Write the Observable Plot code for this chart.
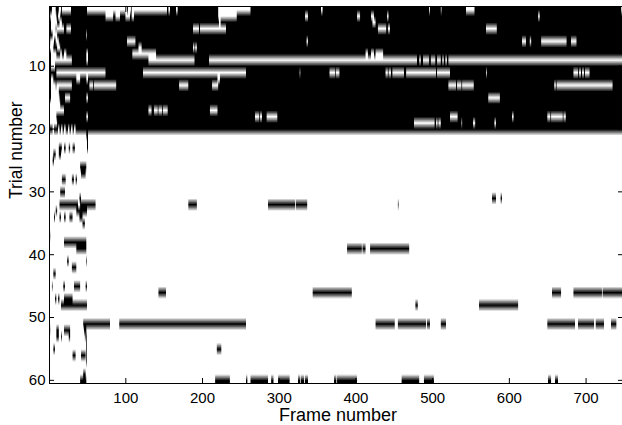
<!DOCTYPE html>
<html>
<head>
<meta charset="utf-8">
<style>html,body{margin:0;padding:0;background:#fff}svg{display:block}</style>
<script src="https://cdn.jsdelivr.net/npm/d3@7"></script>
<script src="https://cdn.jsdelivr.net/npm/@observablehq/plot@0.6"></script>
</head>
<body>
<div id="chart"></div>
<script>
const frameCount = 747;
const trialCount = 60;
const xTicks = [100,200,300,400,500,600,700];
const yTicks = [10,20,30,40,50,60];

// Trials 1-20: background 0 (black), [first frame, last frame] runs are 1 (white)
const trials01to20 = [
/* 1*/[[4,5],[6,8],[13,15],[17,28],[50,101],[103,106],[108,153],[156,157],[166,167],[221,262],[355,356],[496,496],[511,511],[544,554],[746,746]],
/* 2*/[[2,9],[12,14],[74,83],[87,92],[100,105],[108,110],[221,244],[334,337],[402,405],[420,423],[441,442],[638,639]],
/* 3*/[[3,10],[14,16],[222,223],[422,425]],
/* 4*/[[3,8],[10,19],[23,28],[188,195],[197,230],[429,439],[442,444],[570,583]],
/* 5*/[[5,10],[49,49]],
/* 6*/[[2,6],[9,12],[102,112],[336,337],[617,621],[627,628],[642,674],[681,684],[685,687]],
/* 7*/[[1,5],[11,14],[117,120],[188,189],[191,192]],
/* 8*/[[3,9],[15,16],[20,22],[49,50],[109,139],[413,415],[420,423],[426,435]],
/* 9*/[[3,29],[49,50],[130,189],[209,479],[483,484],[488,495],[498,503],[506,510],[513,514],[517,518],[521,747]],
/*10*/[[3,7]],
/*11*/[[10,73],[123,256],[327,327],[366,372],[374,378],[439,441],[443,445],[448,462],[466,504],[506,522],[570,570],[684,686],[687,689],[691,693],[695,697],[699,704]],
/*12*/[[3,5],[36,40],[49,50],[220,222]],
/*13*/[[3,8],[10,29],[53,57],[59,87],[170,181],[213,220],[521,530],[532,537],[539,553],[659,660],[662,734]],
/*14*/[[3,12]],
/*15*/[[3,13],[21,27],[49,50],[573,587]],
/*16*/[[1,14]],
/*17*/[[1,9],[10,19],[130,133],[137,141],[143,147],[149,154],[210,219]],
/*18*/[[1,9],[49,50],[269,273],[275,277],[284,297],[523,532],[604,605],[650,653],[655,669],[671,673]],
/*19*/[[1,10],[476,502],[505,506],[508,510],[538,538],[553,555],[581,582]],
/*20*/[[5,6],[12,13],[16,17],[20,21],[25,26],[29,30],[33,34]]
];

// Trials 21-60: background 1 (white), [first frame, last frame] runs are 0 (black)
const trials21to60 = [
/*21*/[[49,50]],
/*22*/[[50,50]],
/*23*/[[13,16],[20,21],[26,27],[31,33],[50,50]],
/*24*/[[6,8],[13,15]],
/*25*/[[5,6]],
/*26*/[[41,48]],
/*27*/[[42,47]],
/*28*/[[17,21],[30,32],[35,36]],
/*29*/[],
/*30*/[[15,20]],
/*31*/[[40,41],[578,582],[589,590]],
/*32*/[[14,37],[41,60],[182,192],[286,320],[322,325],[326,336],[455,455]],
/*33*/[[36,49],[9,10]],
/*34*/[[7,7],[14,15],[20,21],[27,30],[40,43]],
/*35*/[[44,46]],
/*36*/[],
/*37*/[[1,1]],
/*38*/[[20,48]],
/*39*/[[36,48],[389,407],[409,412],[419,469]],
/*40*/[],
/*41*/[[24,25],[49,49]],
/*42*/[[30,35]],
/*43*/[[6,8]],
/*44*/[],
/*45*/[[4,4],[19,20],[33,40],[48,49]],
/*46*/[[143,152],[344,394],[656,667],[684,720],[722,747]],
/*47*/[[8,9],[12,13],[20,30]],
/*48*/[[16,49],[478,480],[561,611]],
/*49*/[],
/*50*/[],
/*51*/[[45,79],[92,256],[426,450],[455,491],[493,496],[511,517],[650,685],[690,710],[713,719],[720,723],[733,739]],
/*52*/[[1,1],[10,12],[20,27],[46,48]],
/*53*/[[10,12],[16,16],[26,27],[47,47],[49,49]],
/*54*/[[49,49]],
/*55*/[[6,7],[49,49],[219,224]],
/*56*/[[31,34],[42,47],[49,49]],
/*57*/[[49,49]],
/*58*/[],
/*59*/[[45,47]],
/*60*/[[41,48],[217,235],[257,258],[263,282],[283,285],[290,292],[299,301],[302,305],[306,310],[311,313],[325,327],[329,332],[334,337],[372,374],[376,401],[460,464],[465,482],[489,498],[499,501],[651,654],[660,663]]
];

const values = new Float64Array(frameCount * trialCount);
const paint = (trial, background, runs) => {
  const row = (trial - 1) * frameCount;
  values.fill(background, row, row + frameCount);
  for (const [a, b] of runs) values.fill(1 - background, row + a - 1, row + b);
};
trials01to20.forEach((runs, i) => paint(i + 1, 0, runs));
trials21to60.forEach((runs, i) => paint(i + 21, 1, runs));

const font = "'Liberation Sans', Arial, sans-serif";
const plot = Plot.plot({
  width: 622,
  height: 425,
  marginTop: 6,
  marginLeft: 49,
  marginRight: 0,
  marginBottom: 42,
  style: {fontFamily: font, background: "#fff", color: "#000"},
  x: {domain: [0.5, frameCount + 0.5], axis: null},
  y: {domain: [0.5, trialCount + 0.5], reverse: true, axis: null},
  color: {type: "linear", domain: [0, 1], range: ["#000", "#fff"]},
  marks: [
    Plot.raster(Array.from(values), {
      width: frameCount, height: trialCount,
      x1: 0.5, x2: frameCount + 0.5, y1: 0.5, y2: trialCount + 0.5,
      fill: d => d
    }),
    Plot.axisX({anchor: "bottom", ticks: xTicks, tickSize: -5, tickPadding: 14, fontSize: 15, label: null, tickFormat: d => d}),
    Plot.axisX({anchor: "top", ticks: xTicks, tickSize: -5, tickFormat: () => "", label: null}),
    Plot.axisY({anchor: "left", ticks: yTicks, tickSize: -5, tickPadding: 9, fontSize: 15, label: null, tickFormat: d => d}),
    Plot.axisY({anchor: "right", ticks: yTicks, tickSize: -5, tickFormat: () => "", label: null}),
    Plot.frame({stroke: "#000", strokeWidth: 1}),
    Plot.text(["Frame number"], {frameAnchor: "bottom", dy: 32, dx: 2, fontSize: 18, lineAnchor: "middle"}),
    Plot.text(["Trial number"], {frameAnchor: "left", dx: -33, dy: 4, rotate: -90, fontSize: 17.5})
  ]
});
document.getElementById("chart").append(plot);
</script>
</body>
</html>
